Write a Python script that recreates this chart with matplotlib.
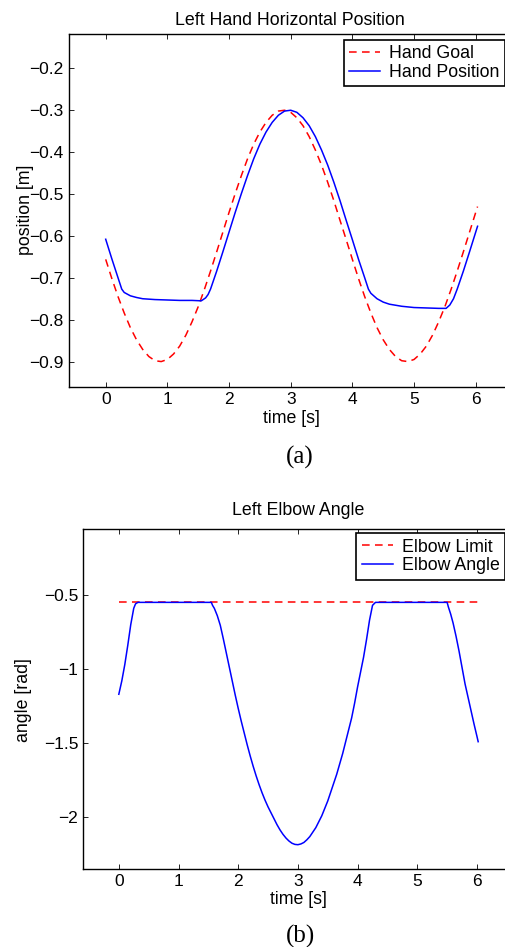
import matplotlib
matplotlib.use('Agg')
import matplotlib.pyplot as plt

plt.rcParams['font.family'] = ['Liberation Sans', 'DejaVu Sans']

# ---------------- data ----------------
goal_t = [0.0, 0.1, 0.2, 0.3, 0.4, 0.5, 0.6, 0.7, 0.8, 0.9,
          1.0, 1.1, 1.2, 1.3, 1.4, 1.5, 1.6, 1.7, 1.8, 1.9,
          2.0, 2.1, 2.2, 2.3, 2.4, 2.5, 2.6, 2.7, 2.8, 2.9,
          3.0, 3.1, 3.2, 3.3, 3.4, 3.5, 3.6, 3.7, 3.8, 3.9,
          4.0, 4.1, 4.2, 4.3, 4.4, 4.5, 4.6, 4.7, 4.8, 4.9,
          5.0, 5.1, 5.2, 5.3, 5.4, 5.5, 5.6, 5.7, 5.8, 5.9,
          6.0, 6.03]
goal_pos = [-0.656, -0.702, -0.745, -0.784, -0.819, -0.848, -0.871, -0.888, -0.898, -0.900,
            -0.895, -0.882, -0.863, -0.837, -0.805, -0.769, -0.728, -0.684, -0.638, -0.591,
            -0.544, -0.499, -0.456, -0.416, -0.381, -0.352, -0.329, -0.312, -0.302, -0.300,
            -0.305, -0.318, -0.337, -0.363, -0.395, -0.431, -0.472, -0.516, -0.563, -0.609,
            -0.656, -0.702, -0.745, -0.784, -0.819, -0.848, -0.871, -0.888, -0.898, -0.900,
            -0.895, -0.882, -0.863, -0.837, -0.805, -0.769, -0.728, -0.684, -0.638, -0.591,
            -0.544, -0.530]

hand_t = [0.00, 0.10, 0.20, 0.26, 0.30, 0.40, 0.50, 0.60, 0.80, 1.00,
          1.20, 1.40, 1.55, 1.58, 1.62, 1.66, 1.70, 1.80, 1.90, 2.00,
          2.10, 2.20, 2.30, 2.40, 2.50, 2.60, 2.70, 2.80, 2.90, 3.00,
          3.10, 3.20, 3.30, 3.40, 3.50, 3.60, 3.70, 3.80, 3.90, 4.00,
          4.10, 4.20, 4.26, 4.30, 4.40, 4.50, 4.60, 4.80, 5.00, 5.20,
          5.40, 5.52, 5.58, 5.64, 5.70, 5.80, 5.90, 6.00, 6.03]
hand_pos = [-0.608, -0.655, -0.700, -0.727, -0.735, -0.743, -0.747, -0.750, -0.752, -0.753,
            -0.754, -0.754, -0.755, -0.752, -0.748, -0.740, -0.727, -0.684, -0.638, -0.591,
            -0.544, -0.499, -0.456, -0.416, -0.381, -0.352, -0.329, -0.312, -0.302, -0.300,
            -0.305, -0.318, -0.337, -0.363, -0.395, -0.431, -0.472, -0.516, -0.563, -0.609,
            -0.656, -0.700, -0.727, -0.737, -0.750, -0.758, -0.763, -0.768, -0.771, -0.772,
            -0.773, -0.773, -0.765, -0.750, -0.727, -0.684, -0.638, -0.591, -0.577]

limit_t = [0.0, 6.02]
limit_val = [-0.55, -0.55]

elbow_t = [0.00, 0.05, 0.10, 0.15, 0.20, 0.25, 0.28, 0.32, 0.60, 1.00,
           1.30, 1.55, 1.57, 1.60, 1.65, 1.70, 1.75, 1.80, 1.85, 1.90,
           1.95, 2.00, 2.05, 2.10, 2.15, 2.20, 2.25, 2.30, 2.35, 2.40,
           2.45, 2.50, 2.55, 2.60, 2.65, 2.70, 2.75, 2.80, 2.85, 2.90,
           2.95, 3.00, 3.05, 3.10, 3.15, 3.20, 3.25, 3.30, 3.35, 3.40,
           3.45, 3.50, 3.55, 3.60, 3.65, 3.70, 3.75, 3.80, 3.85, 3.90,
           3.95, 4.00, 4.05, 4.10, 4.15, 4.20, 4.25, 4.30, 4.60, 5.00,
           5.30, 5.50, 5.52, 5.56, 5.60, 5.65, 5.70, 5.75, 5.80, 5.85,
           5.90, 5.95, 6.00, 6.02]
elbow_val = [-1.17, -1.08, -0.97, -0.84, -0.70, -0.59, -0.56, -0.55, -0.55, -0.55,
             -0.55, -0.55, -0.57, -0.59, -0.64, -0.705, -0.795, -0.89, -0.985, -1.08,
             -1.175, -1.265, -1.35, -1.43, -1.51, -1.585, -1.655, -1.72, -1.78, -1.835,
             -1.885, -1.93, -1.97, -2.01, -2.05, -2.085, -2.115, -2.14, -2.16, -2.175,
             -2.183, -2.185, -2.18, -2.17, -2.152, -2.13, -2.10, -2.07, -2.03, -1.99,
             -1.94, -1.89, -1.83, -1.77, -1.71, -1.64, -1.57, -1.49, -1.41, -1.33,
             -1.23, -1.12, -1.02, -0.92, -0.80, -0.67, -0.57, -0.55, -0.55, -0.55,
             -0.55, -0.55, -0.58, -0.63, -0.69, -0.78, -0.88, -0.99, -1.10, -1.19,
             -1.28, -1.37, -1.455, -1.49]

x_ticks = [0, 1, 2, 3, 4, 5, 6]
y_ticks_a = [-0.9, -0.8, -0.7, -0.6, -0.5, -0.4, -0.3, -0.2]
y_labels_a = ['\u22120.9', '\u22120.8', '\u22120.7', '\u22120.6', '\u22120.5', '\u22120.4', '\u22120.3', '\u22120.2']
y_ticks_b = [-2.0, -1.5, -1.0, -0.5]
y_labels_b = ['\u22122', '\u22121.5', '\u22121', '\u22120.5']

# ---------------- layout ----------------
W, H = 506.0, 947.0
fig = plt.figure(figsize=(W / 100, H / 100), dpi=100)


def fx(px):
    return px / W


def fy(py):
    return 1 - py / H


FS = 12.8
TICK_FS = 12.5


def style_axes(ax):
    for s in ax.spines.values():
        s.set_linewidth(1.0)
    ax.tick_params(direction='in', length=3.5, width=0.6, top=True, right=True,
                   labelsize=TICK_FS, pad=3.5, colors='black')


# ---- (a) ----
ax1 = fig.add_axes([fx(68.7), fy(386.7), 444.0 / W, 352.7 / H])
ax1.plot(goal_t, goal_pos, color='red', lw=1.1, dashes=(5, 3.5), label='Hand Goal')
ax1.plot(hand_t, hand_pos, color='blue', lw=1.1, label='Hand Position')
ax1.set_xlim(-0.6, 6.6)
ax1.set_ylim(-0.96, -0.118)
ax1.set_xticks(x_ticks)
ax1.set_yticks(y_ticks_a)
ax1.set_yticklabels(y_labels_a)
style_axes(ax1)
leg1 = ax1.legend(loc='upper right', bbox_to_anchor=(fx(505), fy(40)),
                  bbox_transform=fig.transFigure, borderaxespad=0, fancybox=False,
                  edgecolor='black', framealpha=1, fontsize=FS, handlelength=1.75,
                  handletextpad=0.5, borderpad=0.3, labelspacing=0.1)
leg1.get_frame().set_linewidth(1.2)

fig.text(fx(290), fy(25.3), 'Left Hand Horizontal Position', ha='center', va='baseline', fontsize=FS)
fig.text(fx(291.3), fy(423.3), 'time [s]', ha='center', va='baseline', fontsize=FS)
fig.text(fx(25.5), fy(210), 'position [m]', ha='center', va='center', rotation=90, fontsize=FS)
fig.text(fx(299.5), fy(463.3), '(a)', ha='center', va='baseline', fontsize=18,
         family=['Liberation Serif', 'DejaVu Serif'])

# ---- (b) ----
ax2 = fig.add_axes([fx(83), fy(869.3), 429.8 / W, 340.0 / H])
ax2.plot(limit_t, limit_val, color='red', lw=1.1, dashes=(5, 3.5), label='Elbow Limit')
ax2.plot(elbow_t, elbow_val, color='blue', lw=1.1, label='Elbow Angle')
ax2.set_xlim(-0.6, 6.6)
ax2.set_ylim(-2.351, -0.057)
ax2.set_xticks(x_ticks)
ax2.set_yticks(y_ticks_b)
ax2.set_yticklabels(y_labels_b)
style_axes(ax2)
leg2 = ax2.legend(loc='upper right', bbox_to_anchor=(fx(505), fy(533.3)),
                  bbox_transform=fig.transFigure, borderaxespad=0, fancybox=False,
                  edgecolor='black', framealpha=1, fontsize=FS, handlelength=1.75,
                  handletextpad=0.5, borderpad=0.3, labelspacing=0.1)
leg2.get_frame().set_linewidth(1.2)

fig.text(fx(298), fy(515), 'Left Elbow Angle', ha='center', va='baseline', fontsize=FS)
fig.text(fx(298.3), fy(904), 'time [s]', ha='center', va='baseline', fontsize=FS)
fig.text(fx(24), fy(700), 'angle [rad]', ha='center', va='center', rotation=90, fontsize=FS)
fig.text(fx(300.5), fy(942.7), '(b)', ha='center', va='baseline', fontsize=18,
         family=['Liberation Serif', 'DejaVu Serif'])

fig.savefig('out.png', dpi=100)
